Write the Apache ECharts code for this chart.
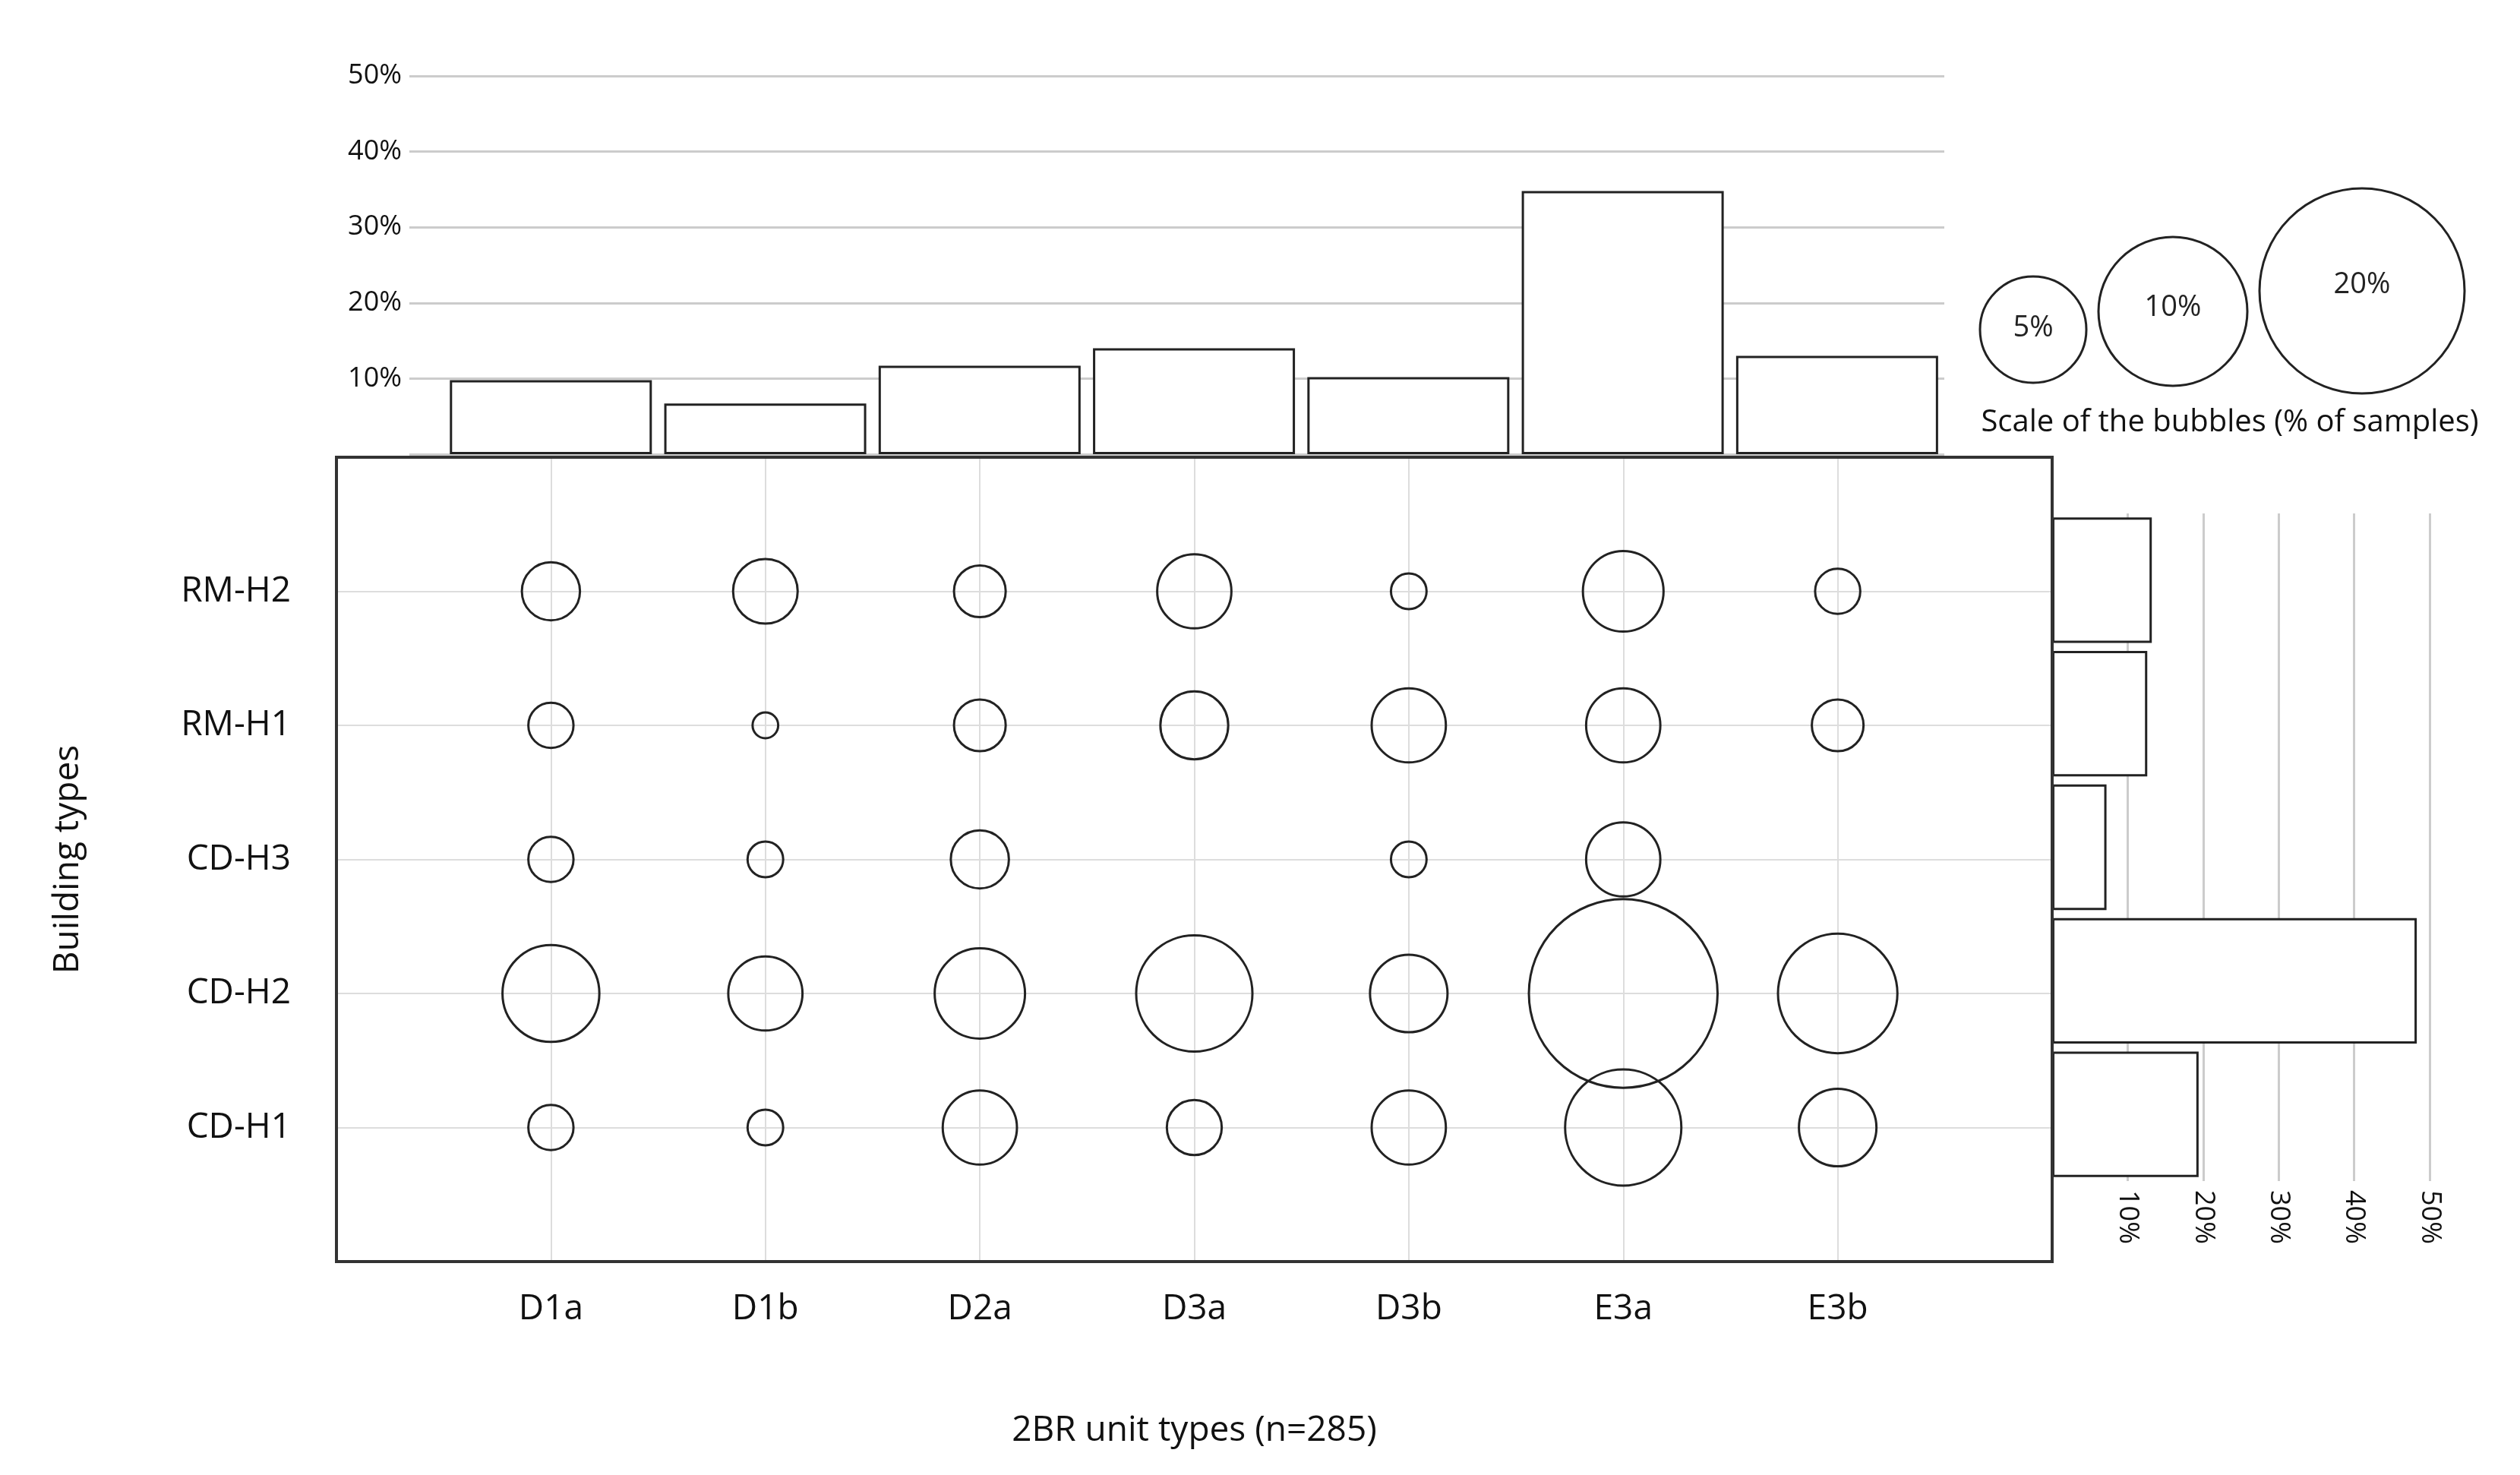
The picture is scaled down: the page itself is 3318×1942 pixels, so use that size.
<!DOCTYPE html>
<html>
<head>
<meta charset="utf-8">
<script src="https://cdn.jsdelivr.net/npm/echarts@6/dist/echarts.min.js"></script>
<style>html,body{margin:0;background:#fff}</style>
</head>
<body>
<div id="main" style="width:3318px;height:1942px;"></div>
<script type="text/javascript">
	var unitTypes = ['D1a', 'D1b', 'D2a', 'D3a', 'D3b', 'E3a', 'E3b'];
	var buildingTypes = ['CD-H1', 'CD-H2', 'CD-H3', 'RM-H1', 'RM-H2'];
	// share of samples per unit type (top bars), %
	var unitShare = [9.8, 6.7, 11.7, 14.0, 10.2, 34.8, 13.0];
	// share of samples per building type (right bars), %
	var buildingShare = [19.4, 48.3, 7.2, 12.6, 13.2];
	// bubble values (% of samples), rows = buildingTypes, cols = unitTypes
	var bubbleCDH1 = [0.9, 0.56, 2.43, 1.33, 2.43, 5.96, 2.65];
	var bubbleCDH2 = [4.14, 2.43, 3.6, 5.96, 2.65, 15.7, 6.29];
	var bubbleCDH3 = [0.9, 0.56, 1.49, 0, 0.56, 2.43, 0];
	var bubbleRMH1 = [0.9, 0.29, 1.18, 2.03, 2.43, 2.43, 1.18];
	var bubbleRMH2 = [1.49, 1.84, 1.18, 2.43, 0.56, 2.87, 0.9];

	var rows = [bubbleCDH1, bubbleCDH2, bubbleCDH3, bubbleRMH1, bubbleRMH2];
	var bubbles = [];
	rows.forEach(function (row, y) {
		row.forEach(function (v, x) {
			if (v > 0) bubbles.push([x, y, v]);
		});
	});
	var FONT = 'Open Sans';
	var pctFmt = function (v) { return v === 0 ? '' : v + '%'; };
	var box = { left: 443, top: 602, width: 2259, height: 1059 };

	var myChart = echarts.init(document.getElementById('main'));
	myChart.setOption({
		animation: false,
		textStyle: { fontFamily: FONT, color: '#111' },
		grid: [
			{ left: 539, width: 2021, top: 100, height: 498 },
			{ left: box.left, width: box.width, top: box.top, height: box.height },
			{ left: 2702, width: 497, top: 676, height: 879 }
		],
		xAxis: [
			{ gridIndex: 0, type: 'value', min: -0.66, max: 6.5, axisLine: { show: false }, axisTick: { show: false }, axisLabel: { show: false }, splitLine: { show: false } },
			{ gridIndex: 1, type: 'value', min: -1, max: 7, interval: 1,
				axisLine: { show: false }, axisTick: { show: false },
				axisLabel: { fontSize: 46, margin: 40, color: '#111', formatter: function (v) { return unitTypes[v] || ''; } },
				splitLine: { lineStyle: { color: '#ddd', width: 2 } },
				name: '2BR unit types (n=285)', nameLocation: 'middle', nameGap: 200, nameTextStyle: { fontSize: 46, color: '#111' } },
			{ gridIndex: 2, type: 'value', min: 0, max: 50, interval: 10,
				axisLine: { show: false }, axisTick: { show: false },
				axisLabel: { rotate: -90, fontSize: 36, color: '#111', margin: 12, formatter: pctFmt },
				splitLine: { lineStyle: { color: '#ccc', width: 3 } } }
		],
		yAxis: [
			{ gridIndex: 0, type: 'value', min: 0, max: 50, interval: 10,
				axisLine: { show: false }, axisTick: { show: false },
				axisLabel: { fontSize: 36, color: '#111', margin: 10, formatter: pctFmt },
				splitLine: { lineStyle: { color: '#ccc', width: 3 } } },
			{ gridIndex: 1, type: 'value', min: -1, max: 5, interval: 1,
				axisLine: { show: false }, axisTick: { show: false },
				axisLabel: { fontSize: 46, margin: 60, color: '#111', formatter: function (v) { return buildingTypes[v] || ''; } },
				splitLine: { lineStyle: { color: '#ddd', width: 2 } },
				name: 'Building types', nameLocation: 'middle', nameGap: 330, nameTextStyle: { fontSize: 46, color: '#111' } },
			{ gridIndex: 2, type: 'category', data: buildingTypes,
				axisLine: { show: false }, axisTick: { show: false }, axisLabel: { show: false } }
		],
		graphic: [
			{ type: 'rect', z: 100, shape: { x: box.left, y: box.top, width: box.width, height: box.height }, style: { fill: 'none', stroke: '#333', lineWidth: 4 } },
			{ type: 'circle', shape: { cx: 2677, cy: 434, r: 70 }, style: { fill: '#fff', stroke: '#222', lineWidth: 3 } },
			{ type: 'circle', shape: { cx: 2861, cy: 410, r: 98 }, style: { fill: '#fff', stroke: '#222', lineWidth: 3 } },
			{ type: 'circle', shape: { cx: 3110, cy: 383, r: 135 }, style: { fill: '#fff', stroke: '#222', lineWidth: 3 } },
			{ type: 'text', x: 2677, y: 432, style: { text: '5%', font: '38px "Open Sans"', fill: '#222', align: 'center', verticalAlign: 'middle' } },
			{ type: 'text', x: 2861, y: 405, style: { text: '10%', font: '38px "Open Sans"', fill: '#222', align: 'center', verticalAlign: 'middle' } },
			{ type: 'text', x: 3110, y: 375, style: { text: '20%', font: '38px "Open Sans"', fill: '#222', align: 'center', verticalAlign: 'middle' } },
			{ type: 'text', x: 2936, y: 557, style: { text: 'Scale of the bubbles (% of samples)', font: '40px "Open Sans"', fill: '#111', align: 'center', verticalAlign: 'middle' } }
		],
		series: [
			{ type: 'bar', xAxisIndex: 0, yAxisIndex: 0, barWidth: 266,
				data: unitShare.map(function (v, i) { return [i, v]; }),
				itemStyle: { color: '#fff', borderColor: '#222', borderWidth: 3 } },
			{ type: 'scatter', xAxisIndex: 1, yAxisIndex: 1, data: bubbles,
				symbolSize: function (d) { return 62.7 * Math.sqrt(d[2]); },
				itemStyle: { color: 'rgba(255,255,255,0)', borderColor: '#222', borderWidth: 3, opacity: 1 } },
			{ type: 'bar', xAxisIndex: 2, yAxisIndex: 2, barWidth: '94%', data: buildingShare,
				itemStyle: { color: '#fff', borderColor: '#222', borderWidth: 3 } }
		]
	});
</script>
</body>
</html>
